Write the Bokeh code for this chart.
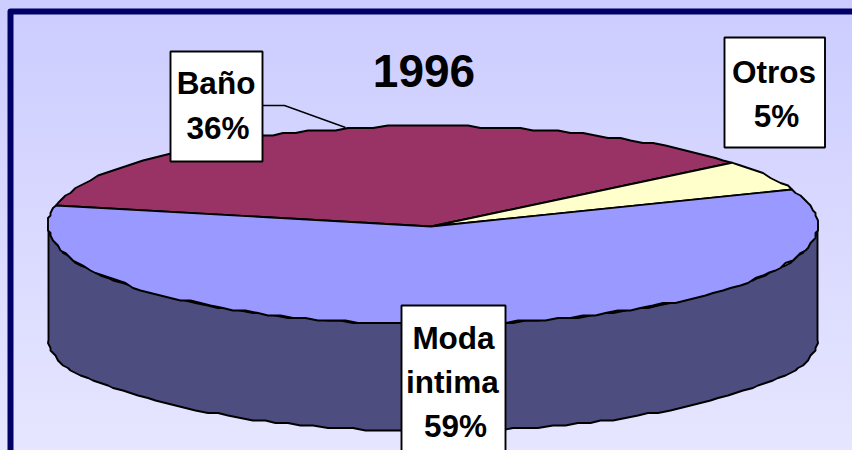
import numpy as np
from bokeh.plotting import figure
from bokeh.models import Range1d
from bokeh.core.properties import value
from bokeh.embed import file_html
from bokeh.resources import INLINE

title = "1996"
categories = ["Baño", "Otros", "Moda intima"]
shares = [36, 5, 59]
slice_colors = ["#993366", "#FFFFCC", "#9999FF"]
side_color = "#4D4D80"
frame_color = "#000066"

W, H = 852, 450
p = figure(width=W, height=H, output_backend="svg", toolbar_location=None,
           x_range=Range1d(0, W), y_range=Range1d(H, 0),
           min_border=0, outline_line_color=None,
           background_fill_color=None, border_fill_color=None)
p.axis.visible = False
p.grid.visible = False

# frame
p.line([10, 10, 860], [460, 11, 11], line_color=frame_color, line_width=6, line_join="round")

# pie geometry
cx, cy, rx, ry, depth = 432.5, 224.5, 384.5, 99, 107
START = 168.6  # degrees, clockwise from here
STEP = 2.0
GRID = 2.5


def arc(a0, a1, side=False):
    n = max(2, int(round(abs(a1 - a0) / STEP)) + 1)
    t = np.radians(np.linspace(a0, a1, n))
    x = cx + rx * np.cos(t)
    y = cy - ry * np.sin(t)
    if side:
        y = y + depth + 8 * np.abs(np.cos(t)) ** 8
    # the original outline is a coarse, stepped polygon
    x[1:-1] = np.round(x[1:-1] / GRID) * GRID
    y[1:-1] = np.round(y[1:-1] / GRID) * GRID
    return x, y


LW = 1.9

# side wall (front half of the cylinder)
tx, ty = arc(180, 360)
bx, by = arc(360, 180, side=True)
p.patch(np.r_[tx, bx], np.r_[ty, by], fill_color=side_color,
        line_color="black", line_width=LW, line_join="round")

# top slices
a = START
for share, color in zip(shares, slice_colors):
    sweep = share / sum(shares) * 360
    ax, ay = arc(a, a - sweep)
    p.patch(np.r_[cx - 2, ax], np.r_[cy + 1.5, ay], fill_color=color,
            line_color="black", line_width=LW, line_join="round")
    a -= sweep

# leader line for Baño
p.line([262, 284, 345], [105, 105, 127], line_color="black", line_width=1.4)

# data label boxes
boxes = [(170, 262, 51, 161), (724, 824.5, 37, 147), (401, 505, 305, 470)]
p.quad(left=[b[0] for b in boxes], right=[b[1] for b in boxes],
       top=[b[2] for b in boxes], bottom=[b[3] for b in boxes],
       fill_color="white", line_color="black", line_width=LW)

font = value("Liberation Sans")
labels = [(215.5, 82, categories[0]), (217.5, 127, f"{shares[0]}%"),
          (773.5, 71, categories[1]), (776, 115, f"{shares[1]}%"),
          (453, 337, "Moda"), (452, 381, "intima"), (455, 425, f"{shares[2]}%")]
p.text([l[0] for l in labels], [l[1] for l in labels], text=[l[2] for l in labels],
       text_font=font, text_font_style="bold", text_font_size="31.5px",
       text_align="center", text_baseline="alphabetic", text_color="black")
p.text([423.5], [70], text=[title], text_font=font, text_font_style="bold",
       text_font_size="46px", text_align="center", text_baseline="alphabetic",
       text_color="black")

css = ("<style>html{background:linear-gradient(#CCCCFF,#E6E6FF) no-repeat;}"
       "body{background:transparent;}</style>")
open("out.html", "w").write(file_html(p, INLINE).replace("</head>", css + "</head>", 1))
